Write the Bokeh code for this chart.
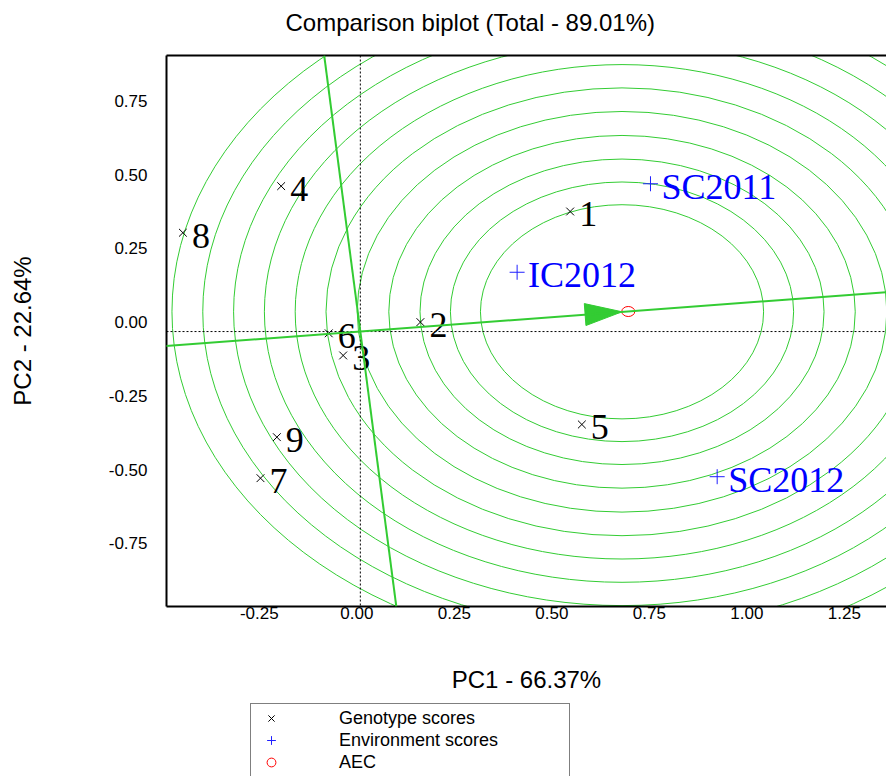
import math
from bokeh.plotting import figure
from bokeh.layouts import column
from bokeh.models import (Range1d, LinearAxis, FixedTicker, Span, Slope, Legend,
                          LegendItem, ColumnDataSource, Label)
from bokeh.core.properties import value
from bokeh.embed import file_html
from bokeh.resources import INLINE

# ---------------- data ----------------
title_text = "Comparison biplot (Total - 89.01%)"
x_label = "PC1 - 66.37%"
y_label = "PC2 - 22.64%"

genotypes = ["1", "2", "3", "4", "5", "6", "7", "8", "9"]
geno_pc1 = [0.538, 0.154, -0.044, -0.203, 0.568, -0.081, -0.256, -0.455, -0.214]
geno_pc2 = [0.407, 0.032, -0.081, 0.493, -0.315, -0.006, -0.497, 0.335, -0.358]

environments = ["SC2011", "IC2012", "SC2012"]
env_pc1 = [0.744, 0.402, 0.915]
env_pc2 = [0.501, 0.201, -0.492]

aec_pc1 = 0.687
aec_pc2 = 0.068
ideal_pc1 = 0.671
ideal_pc2 = 0.067
circle_radii = [0.363, 0.440, 0.518, 0.598, 0.679, 0.759, 0.838, 0.917, 0.996, 1.075, 1.154]

x_ticks = [-0.25, 0.0, 0.25, 0.5, 0.75, 1.0, 1.25]
x_tick_labels = ["-0.25", "0.00", "0.25", "0.50", "0.75", "1.00", "1.25"]
y_ticks = [-0.75, -0.5, -0.25, 0.0, 0.25, 0.5, 0.75]
y_tick_labels = ["-0.75", "-0.50", "-0.25", "0.00", "0.25", "0.50", "0.75"]

legend_labels = ["Genotype scores", "Environment scores", "AEC"]

# ---------------- styling / layout ----------------
SANS = "Liberation Sans"
SERIF = "Liberation Serif"
GREEN = "#33cc33"
ENV_BLUE = "#2020ff"
W = 886
TITLE_H, H, LEG_H = 40, 660, 76
BL, BR, BT, BB = 166, 0, 15, 94
FW = W - BL - BR
FH = H - BT - BB
X_START, Y_START = -0.497, -0.932
X_END = X_START + FW / 390.0
Y_END = Y_START + FH / 295.0
SX = FW / (X_END - X_START)
SY = FH / (Y_END - Y_START)
LAB_DY = 9.5 / SY   # tick labels sit slightly above their ticks, as in the original
LAB_DX = 3.5 / SX   # and slightly left

# ---------------- title strip ----------------
tf = figure(width=W, height=TITLE_H, x_range=Range1d(0, 1), y_range=Range1d(0, 1),
            output_backend="svg", toolbar_location=None, min_border=0,
            min_border_left=BL, x_axis_location=None, y_axis_location=None)
tf.outline_line_color = None
tf.grid.visible = False
tf.add_layout(Label(x=119, y=18, x_units="screen", y_units="screen", text=title_text,
                    text_font=SANS, text_font_size="24px", text_color="black",
                    text_align="left", text_baseline="middle"))

# ---------------- main biplot ----------------
p = figure(width=W, height=H, x_range=Range1d(X_START, X_END),
           y_range=Range1d(Y_START, Y_END), output_backend="svg",
           toolbar_location=None,
           min_border_left=BL, min_border_right=BR, min_border_top=BT,
           min_border_bottom=BB, x_axis_location=None, y_axis_location=None)
p.outline_line_color = None
p.background_fill_color = "white"
p.border_fill_color = "white"
p.grid.visible = False
p.extra_x_ranges = {"xlab": Range1d(X_START + LAB_DX, X_END + LAB_DX)}
p.extra_y_ranges = {"ylab": Range1d(Y_START - LAB_DY, Y_END - LAB_DY)}

def style_axis(ax, ticks, labels, standoff, label_standoff):
    ax.ticker = FixedTicker(ticks=ticks)
    ax.major_label_overrides = {t: l for t, l in zip(ticks, labels)}
    ax.major_tick_out = 0
    ax.major_tick_in = 0
    ax.minor_tick_out = 0
    ax.minor_tick_in = 0
    ax.axis_line_color = "black"
    ax.axis_line_width = 2
    ax.major_label_text_font = SANS
    ax.major_label_text_font_size = "17px"
    ax.major_label_text_color = "black"
    ax.major_label_standoff = standoff
    ax.axis_label_text_font = SANS
    ax.axis_label_text_font_size = "24px"
    ax.axis_label_text_font_style = "normal"
    ax.axis_label_text_color = "black"
    ax.axis_label_standoff = label_standoff

xaxis = LinearAxis(axis_label=x_label, x_range_name="xlab")
style_axis(xaxis, x_ticks, x_tick_labels, 0, 44)
p.add_layout(xaxis, "below")

yaxis = LinearAxis(axis_label=y_label, y_range_name="ylab")
style_axis(yaxis, y_ticks, y_tick_labels, 19, 70)
p.add_layout(yaxis, "left")

top_axis = LinearAxis()
top_axis.ticker = FixedTicker(ticks=[])
top_axis.major_tick_out = 0
top_axis.minor_tick_out = 0
top_axis.major_label_text_font_size = "0px"
top_axis.axis_line_color = "black"
top_axis.axis_line_width = 2
p.add_layout(top_axis, "above")

# concentric circles around the ideal point
n = len(circle_radii)
p.ellipse(x=[ideal_pc1] * n, y=[ideal_pc2] * n,
          width=[2 * r for r in circle_radii], height=[2 * r for r in circle_radii],
          fill_color=None, line_color=GREEN, line_width=1)

# dotted zero axes
p.add_layout(Span(location=0, dimension="height", line_color="black",
                  line_dash="2 2", line_width=1))
p.add_layout(Span(location=0, dimension="width", line_color="black",
                  line_dash="2 2", line_width=1))

# AEC abscissa and ordinate
grad = aec_pc2 / aec_pc1
p.add_layout(Slope(gradient=grad, y_intercept=0, line_color=GREEN, line_width=2))
p.add_layout(Slope(gradient=-1.0 / grad, y_intercept=0, line_color=GREEN, line_width=2))

# arrowhead pointing to the ideal point along the AEC
ux, uy = aec_pc1 * SX, aec_pc2 * SY
nrm = math.hypot(ux, uy)
ux, uy = ux / nrm, uy / nrm
tx, ty = ideal_pc1 * SX, ideal_pc2 * SY
HL, HW = 37, 11
bx, by = tx - HL * ux, ty - HL * uy
nx, ny = -uy, ux
p.patch([tx / SX, (bx + HW * nx) / SX, (bx - HW * nx) / SX],
        [ty / SY, (by + HW * ny) / SY, (by - HW * ny) / SY],
        fill_color=GREEN, line_color=GREEN)

# genotypes
gsrc = ColumnDataSource(dict(x=geno_pc1, y=geno_pc2, name=genotypes))
p.scatter(x="x", y="y", source=gsrc, marker="x", size=11,
          line_color="black", line_width=1)
p.text(x="x", y="y", text="name", source=gsrc, text_font=value(SERIF),
       text_font_size="36px", text_color="black", text_baseline="alphabetic",
       text_align="left", x_offset=9, y_offset=3)

# environments
esrc = ColumnDataSource(dict(x=env_pc1, y=env_pc2, name=environments))
p.scatter(x="x", y="y", source=esrc, marker="cross", size=15,
          line_color=ENV_BLUE, line_width=1)
p.text(x="x", y="y", text="name", source=esrc, text_font=value(SERIF),
       text_font_size="36px", text_color="#0000ff", text_baseline="alphabetic",
       text_align="left", x_offset=11, y_offset=3)

# AEC marker
asrc = ColumnDataSource(dict(x=[aec_pc1], y=[aec_pc2]))
p.ellipse(x="x", y="y", source=asrc, width=13, height=10,
          width_units="screen", height_units="screen",
          fill_color=None, line_color="red", line_width=1)

# ---------------- legend strip below ----------------
# (its view window lies away from the data, so only the legend glyphs show)
lf = figure(width=W, height=LEG_H, x_range=Range1d(2, 3), y_range=Range1d(2, 3),
            output_backend="svg", toolbar_location=None, min_border=0,
            min_border_left=BL, x_axis_location=None, y_axis_location=None)
lf.outline_line_color = None
lf.grid.visible = False
lf.border_fill_color = "white"
lg_g = lf.scatter(x="x", y="y", source=gsrc, marker="x", line_color="black", line_width=1)
lg_e = lf.scatter(x="x", y="y", source=esrc, marker="cross", line_color=ENV_BLUE,
                  line_width=1)
lg_a = lf.scatter(x="x", y="y", source=asrc, marker="circle", fill_color=None,
                  line_color="red", line_width=1)

legend = Legend(items=[LegendItem(label=legend_labels[0], renderers=[lg_g], index=0),
                       LegendItem(label=legend_labels[1], renderers=[lg_e], index=0),
                       LegendItem(label=legend_labels[2], renderers=[lg_a], index=0)],
                location=(84, -1), orientation="vertical")
legend.padding = 3
legend.margin = 0
legend.spacing = 0
legend.glyph_width = 34
legend.glyph_height = 22
legend.label_height = 22
legend.label_standoff = 51
legend.label_width = 227
legend.label_text_font = SANS
legend.label_text_font_size = "18px"
legend.label_text_color = "black"
legend.border_line_color = "black"
legend.border_line_width = 1
legend.background_fill_color = "white"
legend.background_fill_alpha = 1
lf.add_layout(legend, "center")

layout = column(tf, p, lf, spacing=0)
open("out.html", "w").write(file_html(layout, INLINE))
